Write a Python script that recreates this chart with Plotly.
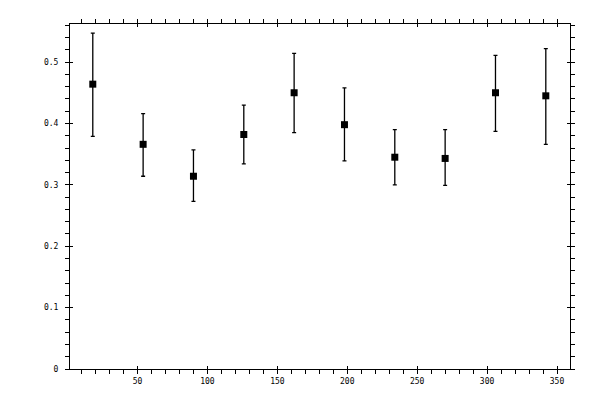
import numpy as np
import plotly.graph_objects as go

# values
angle = [18, 54, 90, 126, 162, 198, 234, 270, 306, 342]
value = [0.464, 0.366, 0.314, 0.382, 0.450, 0.398, 0.345, 0.343, 0.450, 0.445]
upper = [0.547, 0.416, 0.357, 0.430, 0.514, 0.458, 0.390, 0.390, 0.511, 0.522]
lower = [0.379, 0.314, 0.273, 0.334, 0.385, 0.339, 0.300, 0.299, 0.387, 0.366]

val = np.array(value)
err_plus = np.array(upper) - val
err_minus = val - np.array(lower)

x_range = [1.7, 359.3]
y_range = [0, 0.562]
tick_font = dict(family="DejaVu Sans Mono", size=8, color="black")

fig = go.Figure()
fig.add_trace(go.Scatter(
    x=angle, y=value, mode="markers",
    marker=dict(symbol="square", size=7, color="black"),
    error_y=dict(type="data", symmetric=False, array=err_plus, arrayminus=err_minus,
                 color="black", thickness=1.3, width=2),
    showlegend=False, hoverinfo="skip",
))
# invisible copy so the inner-tick axes get drawn
fig.add_trace(go.Scatter(x=angle, y=value, xaxis="x2", yaxis="y2", mode="markers",
                         marker=dict(opacity=0), showlegend=False, hoverinfo="skip"))

common = dict(showgrid=False, zeroline=False, showline=True, linecolor="black",
              linewidth=1, mirror="ticks", tickcolor="black", tickwidth=1)

# page has an 8px body margin, so the margins are shifted to keep the frame in place
fig.update_layout(
    width=600, height=400,
    margin=dict(l=62, r=38, t=11, b=39),
    paper_bgcolor="white", plot_bgcolor="white",
    xaxis=dict(range=x_range, tick0=0, dtick=50, ticks="outside", ticklen=4,
               minor=dict(dtick=10, ticks="outside", ticklen=4, tickcolor="black"),
               tickfont=tick_font, **common),
    yaxis=dict(range=y_range, tick0=0, dtick=0.1, ticks="outside", ticklen=4,
               minor=dict(dtick=0.02, ticks="outside", ticklen=4, tickcolor="black"),
               tickfont=tick_font, ticklabelstandoff=5, **common),
    xaxis2=dict(range=x_range, overlaying="x", anchor="y2", side="bottom", tick0=0, dtick=50,
                ticks="inside", ticklen=3, showticklabels=False, **common),
    yaxis2=dict(range=y_range, overlaying="y", anchor="x2", side="left", tick0=0, dtick=0.1,
                ticks="inside", ticklen=3, showticklabels=False, **common),
)

fig.write_html("out.html")
